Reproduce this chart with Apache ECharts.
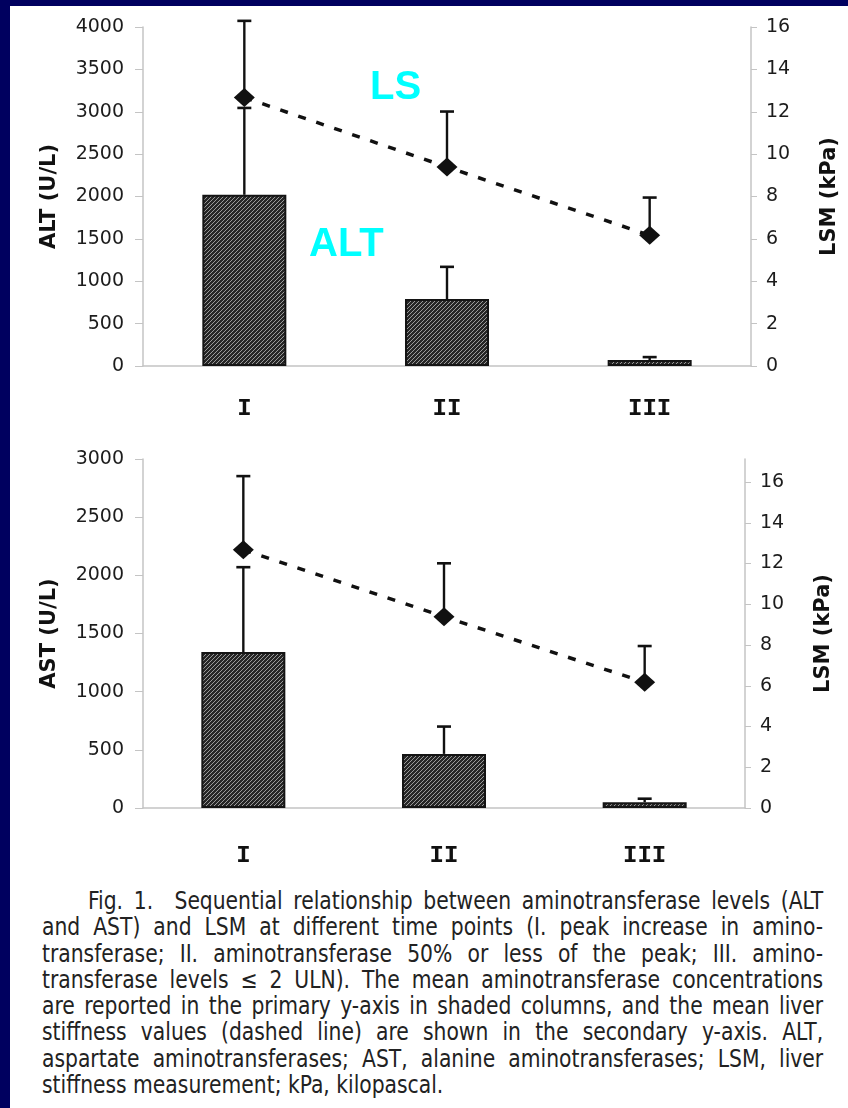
<!DOCTYPE html>
<html>
<head>
<meta charset="utf-8">
<script src="https://cdn.jsdelivr.net/npm/echarts@6/dist/echarts.min.js"></script>
<style>
  html, body { margin: 0; padding: 0; width: 848px; height: 1108px; overflow: hidden; background: #00005f; }
  #panel { position: absolute; left: 10px; top: 6px; width: 838px; height: 1102px; background: #ffffff; }
  #chart { position: absolute; left: 0; top: 0; width: 848px; height: 880px; }
  #caption {
    position: absolute; left: 42px; top: 888px; width: 831px;
    transform: scaleX(0.94); transform-origin: 0 0;
    font-family: "DejaVu Sans Condensed", "DejaVu Sans", Roboto, sans-serif;
    font-stretch: condensed;
    font-size: 24px; line-height: 26.3px; color: #222;
  }
  #caption .ln { text-align: justify; text-align-last: justify; white-space: nowrap; }
  #caption .first { padding-left: 49px; }
  #caption .last { text-align: left; text-align-last: left; }
</style>
</head>
<body>
<div id="panel"></div>
<div id="chart"></div>
<div id="caption">
  <div class="ln first">Fig. 1.&nbsp; Sequential relationship between aminotransferase levels (ALT</div>
  <div class="ln">and AST) and LSM at different time points (I. peak increase in amino-</div>
  <div class="ln">transferase; II. aminotransferase 50% or less of the peak; III. amino-</div>
  <div class="ln">transferase levels ≤ 2 ULN). The mean aminotransferase concentrations</div>
  <div class="ln">are reported in the primary y-axis in shaded columns, and the mean liver</div>
  <div class="ln">stiffness values (dashed line) are shown in the secondary y-axis. ALT,</div>
  <div class="ln">aspartate aminotransferases; AST, alanine aminotransferases; LSM, liver</div>
  <div class="ln last">stiffness measurement; kPa, kilopascal.</div>
</div>
<script>
// Time points
const stages = ['I', 'II', 'III'];

// Mean ALT (U/L) and top of its error bar
const altMean  = [2020, 790, 70];
const altUpper = [3045, 1170, 105];

// Mean AST (U/L) and top of its error bar
const astMean  = [1340, 465, 50];
const astUpper = [2070, 700, 80];

// Mean liver stiffness (kPa) and top of its error bar
const lsmMean  = [12.67, 9.39, 6.17];
const lsmUpper = [16.29, 12.01, 7.95];

// Axis ranges / tick steps
const altAxis = { min: 0, max: 4000, step: 500 };
const astAxis = { min: 0, max: 3000, step: 500 };
const lsmTicks = [0, 2, 4, 6, 8, 10, 12, 14, 16];
const lsmTopMax = 16;
const lsmBottomMax = 17.13;

// Diagonal hatch used to fill the columns
function hatchPattern() {
  const c = document.createElement('canvas');
  c.width = 4; c.height = 4;
  const g = c.getContext('2d');
  g.fillStyle = '#262626';
  g.fillRect(0, 0, 4, 4);
  g.strokeStyle = '#9a9a9a';
  g.lineWidth = 1;
  g.beginPath();
  g.moveTo(0, 4); g.lineTo(4, 0);
  g.moveTo(-1, 1); g.lineTo(1, -1);
  g.moveTo(3, 5); g.lineTo(5, 3);
  g.stroke();
  return { image: c, repeat: 'repeat' };
}

// Upward error bar with a short cap
function errorBar(params, api) {
  const x = api.value(0);
  const p0 = api.coord([x, api.value(1)]);
  const p1 = api.coord([x, api.value(2)]);
  const cap = 7;
  return {
    type: 'group',
    children: [
      { type: 'line', shape: { x1: p0[0], y1: p0[1], x2: p1[0], y2: p1[1] },
        style: { stroke: '#111', lineWidth: 2.4 } },
      { type: 'line', shape: { x1: p1[0] - cap, y1: p1[1], x2: p1[0] + cap, y2: p1[1] },
        style: { stroke: '#111', lineWidth: 2.6 } }
    ]
  };
}

const errData = (mean, upper) => mean.map((m, i) => [i, m, upper[i]]);

const axisGray = '#c4c4c4';
const tickFont = { fontFamily: 'DejaVu Sans', fontSize: 19, color: '#1c1c1c', formatter: v => String(v) };
const titleFont = { fontFamily: 'DejaVu Sans', fontWeight: 'bold', fontSize: 21, color: '#111' };

function xAxisDef(gridIndex, margin) {
  return {
    type: 'category', gridIndex, data: stages,
    axisLine: { lineStyle: { color: axisGray, width: 1.5 } },
    axisTick: { show: false },
    axisLabel: { margin, fontFamily: '"Liberation Mono", "Courier New", monospace', fontWeight: 'bold', fontSize: 24, color: '#111' }
  };
}

function leftAxis(gridIndex, range, name) {
  return {
    type: 'value', gridIndex, position: 'left',
    min: range.min, max: range.max, interval: range.step,
    name, nameLocation: 'middle', nameRotate: 90, nameGap: 83, nameTextStyle: titleFont,
    axisLine: { show: true, lineStyle: { color: axisGray, width: 1.5 } },
    axisTick: { show: true, length: 8, lineStyle: { color: axisGray } },
    splitLine: { show: false },
    axisLabel: Object.assign({ margin: 19 }, tickFont)
  };
}

function rightAxis(gridIndex, max, name) {
  return {
    type: 'value', gridIndex, position: 'right',
    min: 0, max,
    name, nameLocation: 'middle', nameRotate: 90, nameGap: 68, nameTextStyle: titleFont,
    axisLine: { show: true, lineStyle: { color: axisGray, width: 1.5 } },
    axisTick: { show: true, length: 6, customValues: lsmTicks, lineStyle: { color: axisGray } },
    splitLine: { show: false },
    axisLabel: Object.assign({ margin: 15, customValues: lsmTicks }, tickFont)
  };
}

const hatch = hatchPattern();

function panelSeries(xi, yLeft, yRight, mean, upper) {
  return [
    {
      type: 'bar', xAxisIndex: xi, yAxisIndex: yLeft, data: mean, barWidth: 84,
      itemStyle: { color: hatch, borderColor: '#141414', borderWidth: 2 }, z: 2
    },
    {
      type: 'custom', xAxisIndex: xi, yAxisIndex: yLeft,
      data: errData(mean, upper), renderItem: errorBar, z: 3
    },
    {
      type: 'custom', xAxisIndex: xi, yAxisIndex: yRight,
      data: errData(lsmMean, lsmUpper), renderItem: errorBar, z: 4
    },
    {
      type: 'line', xAxisIndex: xi, yAxisIndex: yRight, data: lsmMean,
      lineStyle: { color: '#111', width: 3.5, type: [8, 11] },
      symbol: 'diamond', symbolSize: [21, 19],
      itemStyle: { color: '#111' }, z: 5
    }
  ];
}

const chart = echarts.init(document.getElementById('chart'), null, { renderer: 'canvas' });
chart.setOption({
  backgroundColor: 'transparent',
  animation: false,
  grid: [
    { left: 143, top: 27, width: 609, height: 339 },
    { left: 143, top: 459, width: 602, height: 349 }
  ],
  xAxis: [xAxisDef(0, 31), xAxisDef(1, 36)],
  yAxis: [
    leftAxis(0, altAxis, 'ALT (U/L)'),
    rightAxis(0, lsmTopMax, 'LSM (kPa)'),
    leftAxis(1, astAxis, 'AST (U/L)'),
    rightAxis(1, lsmBottomMax, 'LSM (kPa)')
  ],
  series: [].concat(
    panelSeries(0, 0, 1, altMean, altUpper),
    panelSeries(1, 2, 3, astMean, astUpper)
  ),
  graphic: [
    { type: 'text', left: 370, top: 68, z: 10,
      style: { text: 'LS', fill: '#00ffff', font: 'bold 40px "Liberation Sans", Arial, sans-serif' } },
    { type: 'text', left: 309, top: 225, z: 10,
      style: { text: 'ALT', fill: '#00ffff', font: 'bold 40px "Liberation Sans", Arial, sans-serif' } }
  ]
});
</script>
</body>
</html>
